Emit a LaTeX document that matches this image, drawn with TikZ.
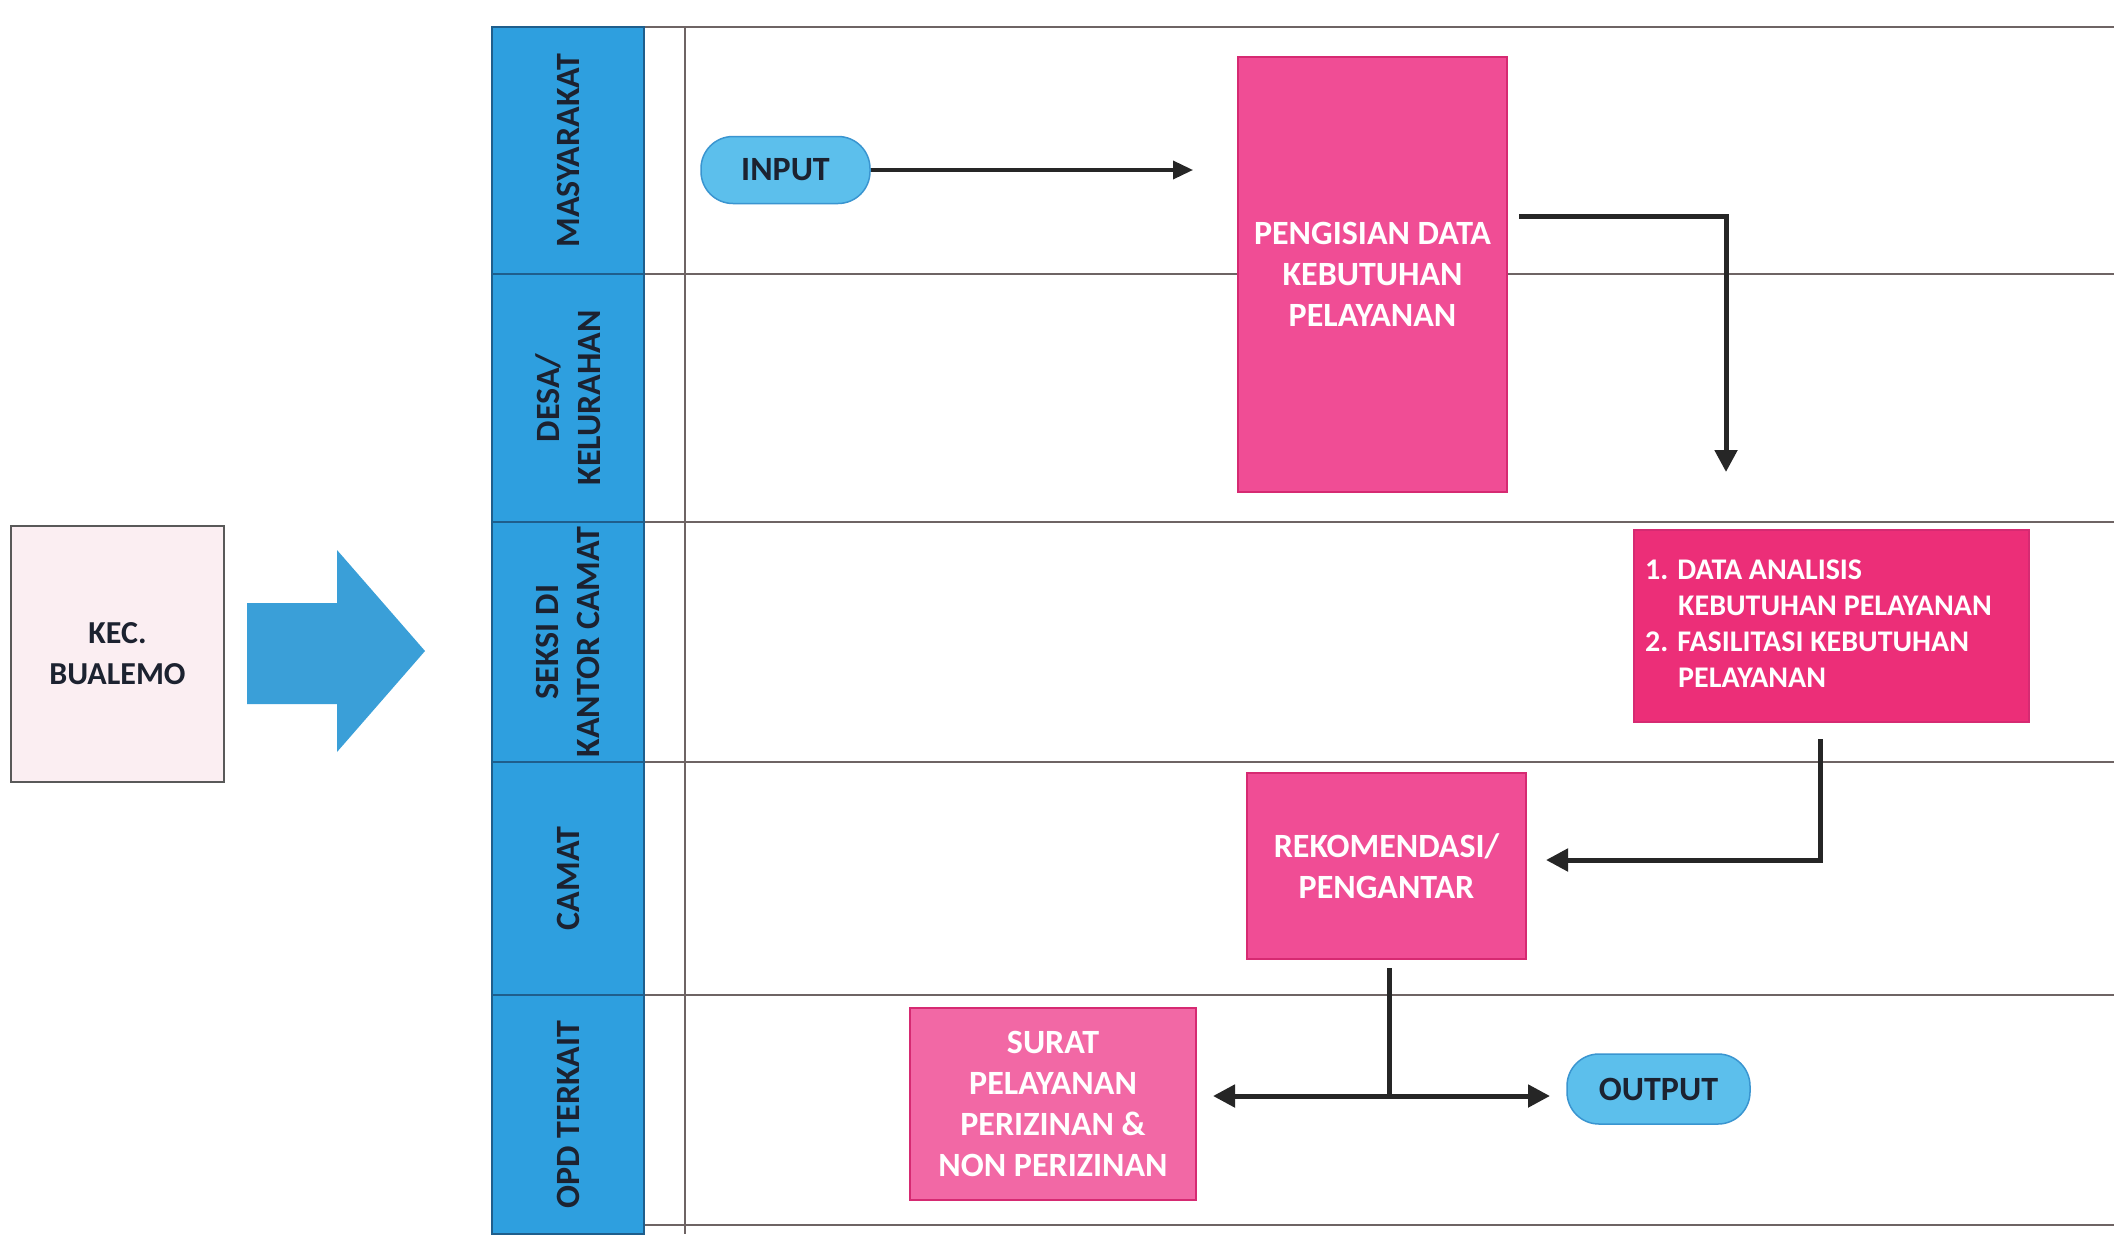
\documentclass[tikz,border=0pt]{standalone}
\usepackage{fontspec}
\setmainfont{Carlito}
\usetikzlibrary{arrows.meta,calc}

\definecolor{lanebl}{HTML}{2E9FDF}
\definecolor{laneedge}{HTML}{1F5E8C}
\definecolor{pillc}{HTML}{5CBFEC}
\definecolor{pilledge}{HTML}{3A95D0}
\definecolor{pinkf}{HTML}{F04D95}
\definecolor{pinke}{HTML}{D62A72}
\definecolor{pinkr}{HTML}{EC2E78}
\definecolor{gridc}{HTML}{6E6464}
\definecolor{kecf}{HTML}{FBEEF2}
\definecolor{inkc}{HTML}{1C2230}
\definecolor{arrowbl}{HTML}{3A9FD8}

\begin{document}
\begin{tikzpicture}[x=1pt,y=-1pt,
  lanehead/.style={draw=laneedge, line width=1.5pt, fill=lanebl, rotate=90,
    text=inkc, font=\fontsize{34}{41}\selectfont\bfseries, align=center, inner sep=0pt},
  gridline/.style={draw=gridc, line width=1.8pt},
  pinkbox/.style={draw=pinke, line width=1.5pt, fill=pinkf, text=white,
    font=\fontsize{34}{41}\selectfont\bfseries, align=center, inner sep=0pt},
  pill/.style={draw=pilledge, line width=1.5pt, fill=pillc, rounded corners=32pt,
    text=inkc, font=\fontsize{34}{41}\selectfont\bfseries, inner sep=0pt},
  conn/.style={draw=black!85, line width=5pt, -{Triangle[length=22pt,width=22pt]}},
  plainline/.style={draw=black!85, line width=5pt}
]
\useasboundingbox[fill=white] (0,0) rectangle (2114,1234);

% grid lines
\draw[gridline] (644,27) -- (2114,27);
\draw[gridline] (644,274) -- (2114,274);
\draw[gridline] (644,522) -- (2114,522);
\draw[gridline] (644,762) -- (2114,762);
\draw[gridline] (644,995) -- (2114,995);
\draw[gridline] (644,1225) -- (2114,1225);
\draw[gridline] (685,27) -- (685,1234);

% lane headers
\node[lanehead, minimum width=247pt, minimum height=152pt] (h1) at (568,150.5) {MASYARAKAT};
\node[lanehead, minimum width=248pt, minimum height=152pt] (h2) at (568,398) {DESA/\\KELURAHAN};
\node[lanehead, minimum width=240pt, minimum height=152pt] (h3) at (568,642) {SEKSI DI\\KANTOR CAMAT};
\node[lanehead, minimum width=233pt, minimum height=152pt] (h4) at (568,878.5) {CAMAT};
\node[lanehead, minimum width=239pt, minimum height=152pt] (h5) at (568,1114.5) {OPD TERKAIT};

% left side
\node[draw=gray!70!black, line width=1.5pt, fill=kecf, minimum width=213pt, minimum height=256pt,
  align=center, text=inkc, font=\fontsize{32}{41}\selectfont\bfseries] (kec) at (117.5,654) {KEC.\\BUALEMO};
\fill[arrowbl] (247,603) -- (337,603) -- (337,550) -- (425,651) -- (337,752) -- (337,704) -- (247,704) -- cycle;

% process nodes
\node[pill, minimum width=169pt, minimum height=67pt] (input) at (785.5,170) {INPUT};
\node[pinkbox, minimum width=269pt, minimum height=435pt] (peng) at (1372.5,274.5) {PENGISIAN DATA\\KEBUTUHAN\\PELAYANAN};
\node[pinkbox, fill=pinkr, minimum width=395pt, minimum height=192pt] (data) at (1831.5,626) {};
\node[anchor=west, text=white, align=left, inner sep=0pt,
  font=\fontsize{30}{36}\selectfont\bfseries] (datatext) at (1645,624)
  {1. DATA ANALISIS\\\hspace*{33pt}KEBUTUHAN PELAYANAN\\2. FASILITASI KEBUTUHAN\\\hspace*{33pt}PELAYANAN};
\node[pinkbox, minimum width=279pt, minimum height=186pt] (rekom) at (1386.5,866) {REKOMENDASI/\\PENGANTAR};
\node[pinkbox, fill=pinkf!85!white, minimum width=286pt, minimum height=192pt] (surat) at (1053,1104) {SURAT\\PELAYANAN\\PERIZINAN \&\\NON PERIZINAN};
\node[pill, minimum width=183pt, minimum height=70pt] (output) at (1658.5,1089) {OUTPUT};

% connectors
\coordinate (inEnd) at (1193,170);
\draw[conn, line width=3.5pt, -{Triangle[length=20pt,width=18pt]}] (input.east) -- (inEnd);

\coordinate (pStart) at (1519,216);
\coordinate (pEnd) at (1726,472);
\draw[conn] (pStart) -| (pEnd);

\coordinate (dStart) at (1820,739);
\coordinate (dTurn) at (1820,860);
\coordinate (rEnd) at (1546,860);
\draw[conn] (dStart) -- (dTurn) -- (rEnd);

\coordinate (rStart) at (1389,968);
\coordinate (split) at (1389,1096);
\coordinate (sEnd) at (1213,1096);
\coordinate (oEnd) at (1550,1096);
\draw[plainline] (rStart) -- (split);
\draw[conn] (split) -- (sEnd);
\draw[conn] (split) -- (oEnd);
\end{tikzpicture}
\end{document}
